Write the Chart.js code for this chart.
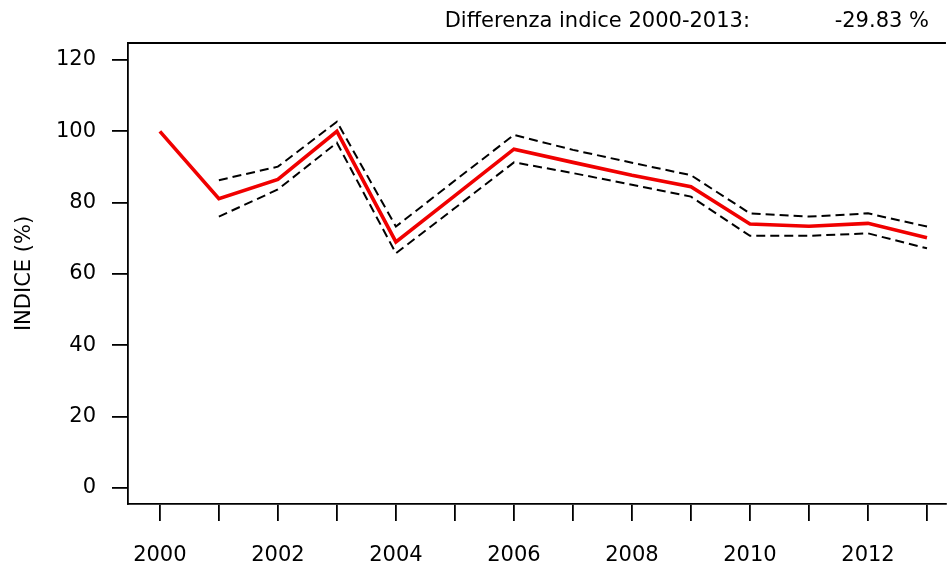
<!DOCTYPE html>
<html>
<head>
<meta charset="utf-8">
<script src="https://cdn.jsdelivr.net/npm/chart.js@4"></script>
<style>
  html, body { margin: 0; padding: 0; background: #fff; }
  #wrap { width: 949px; height: 563px; }
</style>
</head>
<body>
<div id="wrap"><canvas id="indexChart" width="949" height="563"></canvas></div>
<script>
// data
const years = [2000, 2001, 2002, 2003, 2004, 2005, 2006, 2007, 2008, 2009, 2010, 2011, 2012, 2013];
const indexValues = [100, 81.1, 86.5, 100, 69.0, 82.0, 95.0, 91.3, 87.7, 84.5, 74.0, 73.4, 74.2, 70.2];
const upperValues = [null, 86.3, 90.1, 102.7, 73.3, 86.2, 99.0, 94.8, 91.2, 87.7, 77.0, 76.1, 77.0, 73.3];
const lowerValues = [null, 76.1, 83.7, 96.8, 65.8, 78.5, 91.3, 88.3, 85.0, 81.7, 70.7, 70.7, 71.4, 67.2];
const yTicks = [0, 20, 40, 60, 80, 100, 120];
const headerLabel = "Differenza indice 2000-2013:";
const headerValue = "-29.83 %";

const FONT = "'DejaVu Sans', Verdana, sans-serif";
const FSIZE = 21;

function toPoints(vals) {
    return years.map((y, i) => ({ x: y, y: vals[i] }));
}

// top border of the box + the header line
const framePlugin = {
    id: 'frame',
    afterDraw(chart) {
        const ctx = chart.ctx;
        const a = chart.chartArea;
        ctx.save();
        ctx.strokeStyle = '#000';
        ctx.lineWidth = 1.8;
        ctx.beginPath();
        ctx.moveTo(a.left, a.top);
        ctx.lineTo(a.right, a.top);
        ctx.stroke();
        ctx.fillStyle = '#000';
        ctx.font = FSIZE + 'px ' + FONT;
        ctx.textBaseline = 'middle';
        ctx.textAlign = 'right';
        ctx.fillText(headerLabel, 750, 22);
        ctx.fillText(headerValue, 929, 22);
        ctx.restore();
    }
};

new Chart(document.getElementById('indexChart').getContext('2d'), {
    type: 'line',
    data: {
        datasets: [
            {
                label: 'Upper',
                data: toPoints(upperValues),
                borderColor: '#000',
                borderWidth: 2,
                borderDash: [9, 5],
                pointRadius: 0,
                tension: 0
            },
            {
                label: 'Lower',
                data: toPoints(lowerValues),
                borderColor: '#000',
                borderWidth: 2,
                borderDash: [9, 5],
                pointRadius: 0,
                tension: 0
            },
            {
                label: 'Indice',
                data: toPoints(indexValues),
                borderColor: '#f00000',
                borderWidth: 3.6,
                pointRadius: 0,
                tension: 0
            }
        ]
    },
    options: {
        responsive: false,
        devicePixelRatio: 1,
        animation: false,
        layout: { padding: { top: 43, left: 0, right: 0, bottom: 0 } },
        plugins: {
            legend: { display: false },
            tooltip: { enabled: false }
        },
        scales: {
            x: {
                type: 'linear',
                min: 1999.46,
                max: 2013.321,
                afterBuildTicks: scale => { scale.ticks = years.map(v => ({ value: v })); },
                afterFit: scale => { scale.height = 59; },
                ticks: {
                    autoSkip: false,
                    maxRotation: 0,
                    color: '#000',
                    font: { family: FONT, size: FSIZE },
                    padding: 22,
                    callback: v => (v % 2 === 0 ? String(v) : '')
                },
                grid: {
                    drawOnChartArea: false,
                    drawTicks: true,
                    tickLength: 17,
                    color: '#000',
                    lineWidth: 1.8
                },
                border: { display: true, color: '#000', width: 1.8 }
            },
            y: {
                min: -4.486,
                max: 124.77,
                afterBuildTicks: scale => { scale.ticks = yTicks.map(v => ({ value: v })); },
                afterFit: scale => { scale.width = 128; },
                ticks: {
                    color: '#000',
                    font: { family: FONT, size: FSIZE },
                    padding: 16
                },
                grid: {
                    drawOnChartArea: false,
                    drawTicks: true,
                    tickLength: 16,
                    color: '#000',
                    lineWidth: 1.8
                },
                border: { display: true, color: '#000', width: 1.8 },
                title: {
                    display: true,
                    text: 'INDICE (%)',
                    color: '#000',
                    font: { family: FONT, size: FSIZE },
                    padding: { top: 12, bottom: 10 }
                }
            }
        }
    },
    plugins: [framePlugin]
});
</script>
</body>
</html>
